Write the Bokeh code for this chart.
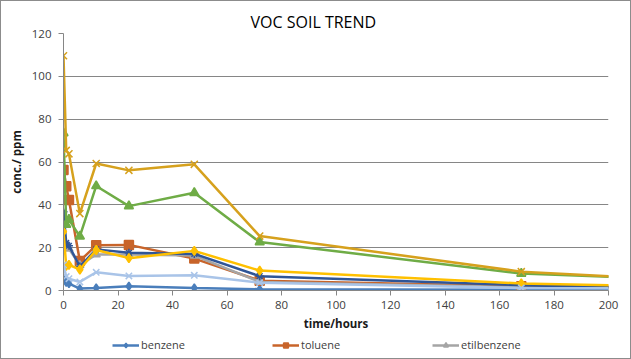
from bokeh.plotting import figure
from bokeh.layouts import column
from bokeh.models import Range1d, SingleIntervalTicker, Legend, LegendItem
from bokeh.embed import file_html
from bokeh.resources import INLINE

# ---- data ----
hours = [0, 1, 2, 6, 12, 24, 48, 72, 168, 240]

benzene     = [5.7, 3.8, 3.2, 0.9, 1.2, 2.0, 1.2, 0.6, 0.3, 0.3]
toluene     = [56.3, 48.7, 42.3, 13.8, 21.1, 21.3, 14.9, 4.6, 2.0, 1.1]
etilbenzene = [31.3, 20.0, 19.5, 11.8, 16.8, 16.8, 16.3, 4.0, 1.5, 0.9]
series_4    = [36.8, 22.2, 20.9, 11.2, 19.2, 17.6, 17.1, 6.7, 2.5, 0.5]
series_5    = [27.5, 11.5, 12.0, 9.8, 18.9, 15.1, 18.5, 9.3, 3.3, 1.5]
series_6    = [12.0, 6.5, 5.5, 4.0, 8.5, 6.8, 7.1, 3.6, 1.2, 0.8]
series_7    = [73.5, 30.8, 33.1, 25.3, 48.8, 39.4, 45.6, 22.6, 7.9, 4.7]
series_8    = [109.6, 65.4, 63.8, 35.9, 59.3, 56.1, 58.9, 25.4, 8.8, 4.1]

series_names = ["benzene", "toluene", "etilbenzene", "series 4",
                "series 5", "series 6", "series 7", "series 8"]
legend_names = ["benzene", "toluene", "etilbenzene"]

x_ticks_interval = 20
y_ticks_interval = 20

# ---- styles ----
styles = [
    dict(color="#4A7EBB", marker="diamond",  size=8),
    dict(color="#C8642A", marker="square",   size=9),
    dict(color="#A5A5A5", marker="triangle", size=8),
    dict(color="#2F5597", marker="asterisk", size=8),
    dict(color="#FFC000", marker="diamond",  size=9),
    dict(color="#A9C4E8", marker="x",        size=9),
    dict(color="#6FAC46", marker="triangle", size=9),
    dict(color="#D6A11D", marker="x",        size=10),
]
all_series = [benzene, toluene, etilbenzene, series_4,
              series_5, series_6, series_7, series_8]

FONT = "Open Sans"
GRID = "#868686"

p = figure(width=629, height=335,
           x_range=Range1d(0, 200), y_range=Range1d(0, 120),
           output_backend="svg", toolbar_location=None,
           min_border_left=62, min_border_right=22,
           min_border_top=32, min_border_bottom=46,
           title="VOC SOIL TREND")

p.title.text_font = FONT
p.title.text_font_size = "16px"
p.title.text_font_style = "normal"
p.title.text_color = "#000000"
p.title.align = "left"
p.title.offset = 187
p.title.standoff = 1

p.outline_line_color = None
p.xgrid.visible = False
p.ygrid.grid_line_color = GRID
p.ygrid.grid_line_width = 1

for ax, iv in ((p.xaxis, x_ticks_interval), (p.yaxis, y_ticks_interval)):
    ax.ticker = SingleIntervalTicker(interval=iv, num_minor_ticks=0)
    ax.minor_tick_line_color = None
    ax.major_tick_in = 0
    ax.major_tick_out = 5
    ax.axis_line_color = GRID
    ax.major_tick_line_color = GRID
    ax.major_label_text_font = FONT
    ax.major_label_text_font_size = "11.5px"
    ax.major_label_text_color = "#404040"
    ax.axis_label_text_font = FONT
    ax.axis_label_text_font_style = "bold"
    ax.axis_label_text_font_size = "11.5px"
    ax.axis_label_text_color = "#1a1a1a"

p.xaxis.axis_label = "time/hours"
p.xaxis.major_label_standoff = 5
p.xaxis.axis_label_standoff = 4
p.yaxis.axis_label = "conc./ ppm"
p.yaxis.major_label_standoff = 7
p.yaxis.axis_label_standoff = 5

for name, vals, st in zip(series_names, all_series, styles):
    p.line(hours, vals, line_color=st["color"], line_width=2.5)
    p.scatter(hours, vals, marker=st["marker"], size=st["size"],
              fill_color=st["color"], line_color=st["color"], line_width=1.5)

# ---- legend strip (Excel shows only the first three entries) ----
# the strip's y range lies far above the data, so its copies of the series stay hidden
lf = figure(width=629, height=22, output_backend="svg", toolbar_location=None,
            x_range=Range1d(0, 200), y_range=Range1d(1000, 1001),
            x_axis_location=None, y_axis_location=None, title_location=None,
            min_border=0)
lf.outline_line_color = None
lf.grid.visible = False

items = []
for name, vals, st in zip(series_names, all_series, styles):
    if name not in legend_names:
        continue
    ln = lf.line(hours, vals, line_color=st["color"], line_width=2.5)
    sc = lf.scatter(hours, vals, marker=st["marker"], size=st["size"],
                    fill_color=st["color"], line_color=st["color"], line_width=1.5)
    items.append(LegendItem(label=name, renderers=[ln, sc]))

legend = Legend(items=items, orientation="horizontal", location=(49, 6),
                glyph_width=27, glyph_height=12, label_standoff=2,
                label_width=128, label_height=12, spacing=3,
                padding=0, margin=0,
                border_line_color=None, background_fill_alpha=0,
                label_text_font=FONT, label_text_font_size="11px",
                label_text_color="#404040")
lf.add_layout(legend, "center")

layout = column(p, lf, spacing=0)
layout.styles = {"border": "1px solid #8c8c8c"}

open("out.html", "w").write(file_html(layout, INLINE))
